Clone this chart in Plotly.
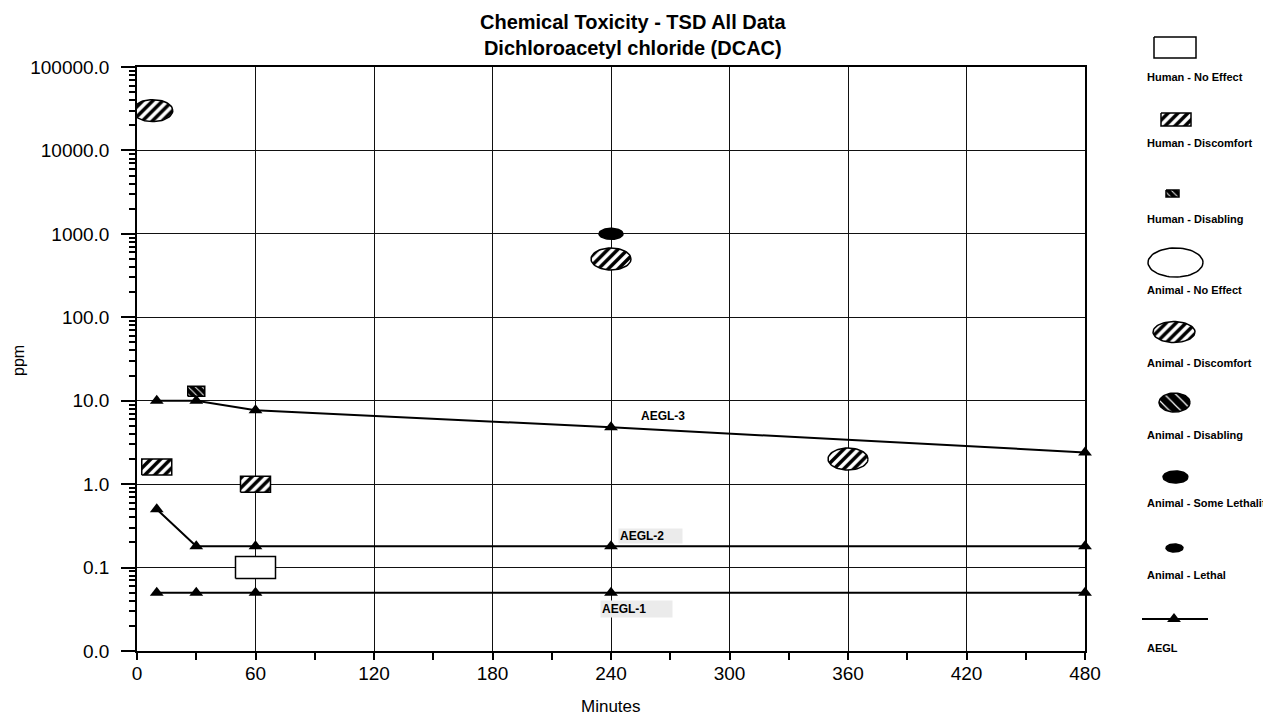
import numpy as np
import plotly.graph_objects as go

# ---------------- data ----------------
aegl_minutes = [10, 30, 60, 240, 480]
aegl1_ppm = [0.05, 0.05, 0.05, 0.05, 0.05]
aegl2_ppm = [0.5, 0.18, 0.18, 0.18, 0.18]
aegl3_ppm = [10, 10, 7.7, 4.8, 2.4]

human_no_effect_min = [60]
human_no_effect_ppm = [0.1]
human_discomfort_min = [10, 60]
human_discomfort_ppm = [1.6, 1.0]
human_disabling_min = [30]
human_disabling_ppm = [13]
animal_discomfort_min = [8, 240, 360]
animal_discomfort_ppm = [30000, 500, 2]
animal_some_lethality_min = [240]
animal_some_lethality_ppm = [1000]

y_tick_vals = [0.01, 0.1, 1, 10, 100, 1000, 10000, 100000]
y_tick_text = ["0.0", "0.1", "1.0", "10.0", "100.0", "1000.0", "10000.0", "100000.0"]
x_tick_vals = [0, 60, 120, 180, 240, 300, 360, 420, 480]

legend_labels = ["Human - No Effect", "Human - Discomfort", "Human - Disabling",
                 "Animal - No Effect", "Animal - Discomfort", "Animal - Disabling",
                 "Animal - Some Lethality", "Animal - Lethal", "AEGL"]

# ---------------- layout geometry (screen pixels) ----------------
SW, SH = 1271, 721          # browser window
OFF = 8                     # default page body margin
W, H = SW - OFF, SH - OFF   # figure size
PL, PR, PT, PB = 137, 1085, 67, 651
XMIN, XMAX = 0, 480
LMIN, LMAX = -2, 5
DX = (XMAX - XMIN) / (PR - PL)      # data units per px
DL = (LMAX - LMIN) / (PB - PT)      # decades per px
FONT = "Liberation Sans, Arial, sans-serif"


def px(x):
    return (x - OFF) / W


def py(y):
    return 1 - (y - OFF) / H


def ellipse_xy(xs, ys, w, h):
    t = np.linspace(0, 2 * np.pi, 64)
    X, Y = [], []
    for cx, cy in zip(xs, ys):
        X += list(cx + (w / 2) * DX * np.cos(t)) + [None]
        Y += list(10 ** (np.log10(cy) + (h / 2) * DL * np.sin(t))) + [None]
    return X, Y


def rect_xy(xs, ys, w, h):
    X, Y = [], []
    for cx, cy in zip(xs, ys):
        a = (w / 2) * DX
        b = (h / 2) * DL
        lc = np.log10(cy)
        X += [cx - a, cx + a, cx + a, cx - a, cx - a, None]
        Y += [10 ** (lc - b), 10 ** (lc - b), 10 ** (lc + b), 10 ** (lc + b), 10 ** (lc - b), None]
    return X, Y


HATCH = dict(shape="/", fgcolor="black", bgcolor="white", size=7, solidity=0.5, fillmode="replace")
DIS_HATCH = dict(shape="\\", fgcolor="white", bgcolor="black", size=5, solidity=0.18, fillmode="replace")


def shape_trace(X, Y, pattern=None, fill="white", xaxis="x", yaxis="y", lw=1.5):
    kw = dict(x=X, y=Y, mode="lines", fill="toself", line=dict(color="black", width=lw),
              showlegend=False, hoverinfo="skip", xaxis=xaxis, yaxis=yaxis)
    if pattern is not None:
        kw["fillpattern"] = pattern
        kw["fillcolor"] = "white"
    else:
        kw["fillcolor"] = fill
    return go.Scatter(**kw)


fig = go.Figure()

# AEGL lines
for vals in (aegl3_ppm, aegl2_ppm, aegl1_ppm):
    fig.add_trace(go.Scatter(x=aegl_minutes, y=vals, mode="lines+markers",
                             line=dict(color="black", width=2),
                             marker=dict(symbol="triangle-up", size=12, color="black"),
                             cliponaxis=False, showlegend=False, hoverinfo="skip"))

# data marks
X, Y = rect_xy(human_no_effect_min, human_no_effect_ppm, 40, 22)
fig.add_trace(shape_trace(X, Y, fill="white"))
X, Y = rect_xy(human_discomfort_min, human_discomfort_ppm, 30, 16)
fig.add_trace(shape_trace(X, Y, pattern=HATCH))
X, Y = rect_xy(human_disabling_min, human_disabling_ppm, 17, 10)
fig.add_trace(shape_trace(X, Y, pattern=DIS_HATCH))
X, Y = ellipse_xy(animal_discomfort_min, animal_discomfort_ppm, 40, 22)
fig.add_trace(shape_trace(X, Y, pattern=HATCH))
X, Y = ellipse_xy(animal_some_lethality_min, animal_some_lethality_ppm, 24, 11)
fig.add_trace(shape_trace(X, Y, fill="black"))

# ---------------- legend (drawn on a hidden pixel-space axis) ----------------
LX0 = 1095


def lg_ellipse(cx, cy, rx, ry):
    t = np.linspace(0, 2 * np.pi, 64)
    return list(cx + rx * np.cos(t)), list(cy + ry * np.sin(t))


def lg_rect(x0, x1, y0, y1):
    return [x0, x1, x1, x0, x0], [y0, y0, y1, y1, y0]


kw2 = dict(xaxis="x2", yaxis="y2")
X, Y = lg_rect(1154, 1196, 37, 58)
fig.add_trace(shape_trace(X, Y, fill="white", **kw2))
X, Y = lg_rect(1161, 1191, 113, 126)
fig.add_trace(shape_trace(X, Y, pattern=HATCH, **kw2))
X, Y = lg_rect(1166, 1179, 190, 197)
fig.add_trace(shape_trace(X, Y, pattern=DIS_HATCH, **kw2))
X, Y = lg_ellipse(1175.5, 262.5, 27.5, 14.5)
fig.add_trace(shape_trace(X, Y, fill="white", **kw2))
X, Y = lg_ellipse(1174, 332, 21, 10.5)
fig.add_trace(shape_trace(X, Y, pattern=HATCH, **kw2))
X, Y = lg_ellipse(1174.5, 402.5, 15.5, 9.5)
fig.add_trace(shape_trace(X, Y, pattern=dict(shape="\\", fgcolor="white", bgcolor="black",
                                             size=8, solidity=0.15, fillmode="replace"), **kw2))
X, Y = lg_ellipse(1175.5, 477, 12.5, 6)
fig.add_trace(shape_trace(X, Y, fill="black", **kw2))
X, Y = lg_ellipse(1174.5, 548, 8.5, 4)
fig.add_trace(shape_trace(X, Y, fill="black", **kw2))
fig.add_trace(go.Scatter(x=[1142, 1174, 1208], y=[619, 619, 619], mode="lines",
                         line=dict(color="black", width=2), showlegend=False,
                         hoverinfo="skip", **kw2))
fig.add_trace(go.Scatter(x=[1174], y=[619], mode="markers",
                         marker=dict(symbol="triangle-up", size=12, color="black"),
                         showlegend=False, hoverinfo="skip", cliponaxis=False, **kw2))

legend_text_y = [77, 143, 219, 290, 363, 435, 503, 575, 648]
annotations = []
for lab, ty in zip(legend_labels, legend_text_y):
    annotations.append(dict(x=px(1145), y=py(ty), xref="paper", yref="paper",
                            text="<b>" + lab + "</b>", showarrow=False, xanchor="left",
                            yanchor="middle", font=dict(family=FONT, size=11, color="black")))

# title (two lines in one text)
annotations.append(dict(x=px(633), y=py(35), xref="paper", yref="paper",
                        text="<b>Chemical Toxicity - TSD All Data</b><br>"
                             "<b>Dichloroacetyl chloride (DCAC)</b>",
                        showarrow=False, xanchor="center", yanchor="middle", align="center",
                        borderpad=0, font=dict(family=FONT, size=20, color="black")))
annotations.append(dict(x=px(611), y=py(706), xref="paper", yref="paper",
                        text="Minutes", showarrow=False, xanchor="center", yanchor="middle",
                        font=dict(family=FONT, size=17, color="black")))
annotations.append(dict(x=px(18), y=py(360), xref="paper", yref="paper",
                        text="ppm", showarrow=False, textangle=-90, xanchor="center",
                        yanchor="middle", font=dict(family=FONT, size=16, color="black")))

# AEGL labels
annotations.append(dict(x=px(663), y=py(416), xref="paper", yref="paper",
                        text="<b>AEGL-3</b>", showarrow=False, xanchor="center", yanchor="middle",
                        font=dict(family=FONT, size=12, color="black")))
annotations.append(dict(x=px(618), y=py(536), xref="paper", yref="paper",
                        text="<b>AEGL-2</b>", showarrow=False, xanchor="left", yanchor="middle",
                        width=61, height=12, align="left", bgcolor="#ebebeb", borderpad=1,
                        font=dict(family=FONT, size=12, color="black")))
annotations.append(dict(x=px(600), y=py(609), xref="paper", yref="paper",
                        text="<b>AEGL-1</b>", showarrow=False, xanchor="left", yanchor="middle",
                        width=69, height=14, align="left", bgcolor="#ebebeb", borderpad=1,
                        font=dict(family=FONT, size=12, color="black")))

fig.update_layout(
    width=W, height=H, autosize=False,
    margin=dict(l=0, r=0, t=0, b=0),
    paper_bgcolor="white", plot_bgcolor="white",
    font=dict(family=FONT, color="black"),
    annotations=annotations,
    xaxis=dict(domain=[px(PL), px(PR)], range=[XMIN, XMAX], tickmode="array",
               tickvals=x_tick_vals, ticks="outside", ticklen=7, tickwidth=1.5,
               tickcolor="black", showgrid=True, gridcolor="#111111", gridwidth=1.2,
               showline=True, linecolor="black", linewidth=1.5, mirror=True,
               zeroline=False, tickfont=dict(family=FONT, size=19, color="black"),
               ticklabelstandoff=-3,
               minor=dict(dtick=30, tick0=0, ticks="outside", ticklen=7, tickcolor="black",
                          showgrid=False),
               automargin=False, fixedrange=True),
    yaxis=dict(domain=[py(PB), py(PT)], type="log", range=[LMIN, LMAX],
               tickmode="array", tickvals=y_tick_vals, ticktext=y_tick_text,
               ticks="outside", ticklen=14, tickwidth=1.5, tickcolor="black",
               showgrid=True, gridcolor="#111111", gridwidth=1.2,
               showline=True, linecolor="black", linewidth=1.5, mirror=True,
               zeroline=False, tickfont=dict(family=FONT, size=19, color="black"),
               ticklabelstandoff=8,
               minor=dict(tickmode="array",
                          tickvals=[m * 10.0 ** e for e in range(LMIN, LMAX) for m in range(2, 10)],
                          ticks="outside", ticklen=6, tickcolor="black", showgrid=False),
               automargin=False, fixedrange=True),
    xaxis2=dict(domain=[px(LX0), 1], range=[LX0, SW], visible=False, fixedrange=True,
                anchor="y2"),
    yaxis2=dict(domain=[0, 1], range=[SH, OFF], visible=False, fixedrange=True, anchor="x2"),
)

fig.write_html("out.html")
